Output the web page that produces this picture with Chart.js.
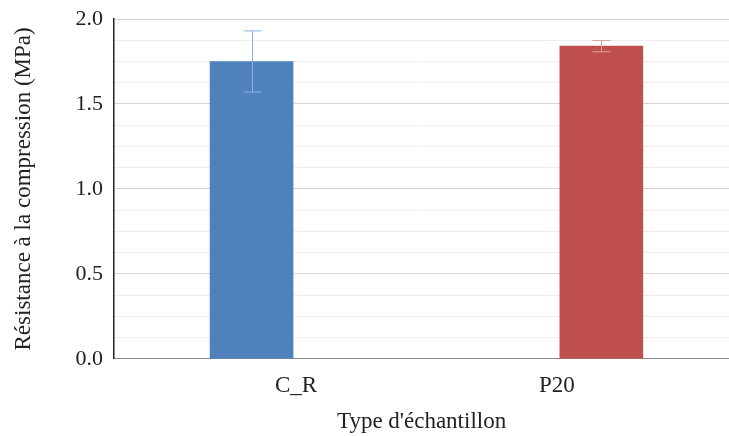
<!DOCTYPE html>
<html>
<head>
<meta charset="utf-8">
<script src="https://cdn.jsdelivr.net/npm/chart.js@4"></script>
<style>
  html, body { margin: 0; padding: 0; background: #fff; overflow: hidden; }
  canvas { display: block; }
</style>
</head>
<body>
<canvas id="resChart" width="729" height="436"></canvas>
<script>
// Data
const categories = ['C_R', 'P20'];
const strength = [1.75, 1.84];      // MPa
const errors = [0.18, 0.033];       // ± MPa
const barColors = ['#4f81bd', '#c0504d'];
const errColors = ['#8db3e2', '#d9a3a1'];
const yTicks = [0, 0.5, 1.0, 1.5, 2.0];

const serif = '"Liberation Serif", "Times New Roman", serif';
// category labels sit a bit closer together than the bars in the original
const labelSpread = 0.746;

// Error bars drawn from the scales
const errorBars = {
    id: 'errorBars',
    afterDatasetsDraw(chart) {
        const ctx = chart.ctx;
        const xs = chart.scales.x, ys = chart.scales.y;
        ctx.save();
        ctx.lineWidth = 1;
        strength.forEach((v, i) => {
            const x = Math.round(xs.getPixelForValue(i)) + 0.5;
            const top = ys.getPixelForValue(v + errors[i]);
            const bot = ys.getPixelForValue(v - errors[i]);
            const cap = 9;
            ctx.strokeStyle = errColors[i];
            ctx.beginPath();
            ctx.moveTo(x, top); ctx.lineTo(x, bot);
            ctx.moveTo(x - cap, top); ctx.lineTo(x + cap, top);
            ctx.moveTo(x - cap, bot); ctx.lineTo(x + cap, bot);
            ctx.stroke();
        });
        ctx.restore();
    }
};

const isMajor = v => yTicks.some(t => Math.abs(t - v) < 1e-6);

new Chart(document.getElementById('resChart'), {
    type: 'bar',
    data: {
        datasets: [{
            data: strength.map((v, i) => ({ x: i, y: v })),
            backgroundColor: barColors,
            barThickness: 83
        }]
    },
    options: {
        responsive: false,
        animation: false,
        layout: { padding: { top: 19, right: 0, left: 10, bottom: 0 } },
        plugins: { legend: { display: false }, tooltip: { enabled: false } },
        scales: {
            x: {
                type: 'linear',
                offset: false,
                min: -0.393,
                max: 1.365,
                grid: { display: false },
                border: { display: true, color: '#8c8c8c', width: 1 },
                afterBuildTicks: scale => {
                    const mid = (categories.length - 1) / 2;
                    scale.ticks = categories.map((c, i) => ({ value: mid + (i - mid) * labelSpread }));
                },
                ticks: {
                    autoSkip: false,
                    maxRotation: 0,
                    padding: 5,
                    color: '#222',
                    font: { family: serif, size: 23 },
                    callback: (v, i) => categories[i]
                },
                title: {
                    display: true,
                    text: "Type d'échantillon",
                    color: '#222',
                    font: { family: serif, size: 23 },
                    padding: { top: 4, bottom: 0 }
                }
            },
            y: {
                min: 0,
                max: 2,
                afterFit: scale => { scale.paddingTop = 0; },
                grid: {
                    drawTicks: false,
                    color: ctx => isMajor(ctx.tick.value) ? '#d4d4d4' : '#ededed',
                    lineWidth: 1
                },
                border: { display: true, color: '#222', width: 1.5 },
                ticks: {
                    stepSize: 0.125,
                    autoSkip: false,
                    padding: 11,
                    color: '#222',
                    font: { family: serif, size: 22 },
                    callback: v => isMajor(v) ? v.toFixed(1) : ''
                },
                title: {
                    display: true,
                    text: 'Résistance à la compression (MPa)',
                    color: '#222',
                    font: { family: serif, size: 23 },
                    padding: { top: 0, bottom: 27 }
                }
            }
        }
    },
    plugins: [errorBars]
});
</script>
</body>
</html>
